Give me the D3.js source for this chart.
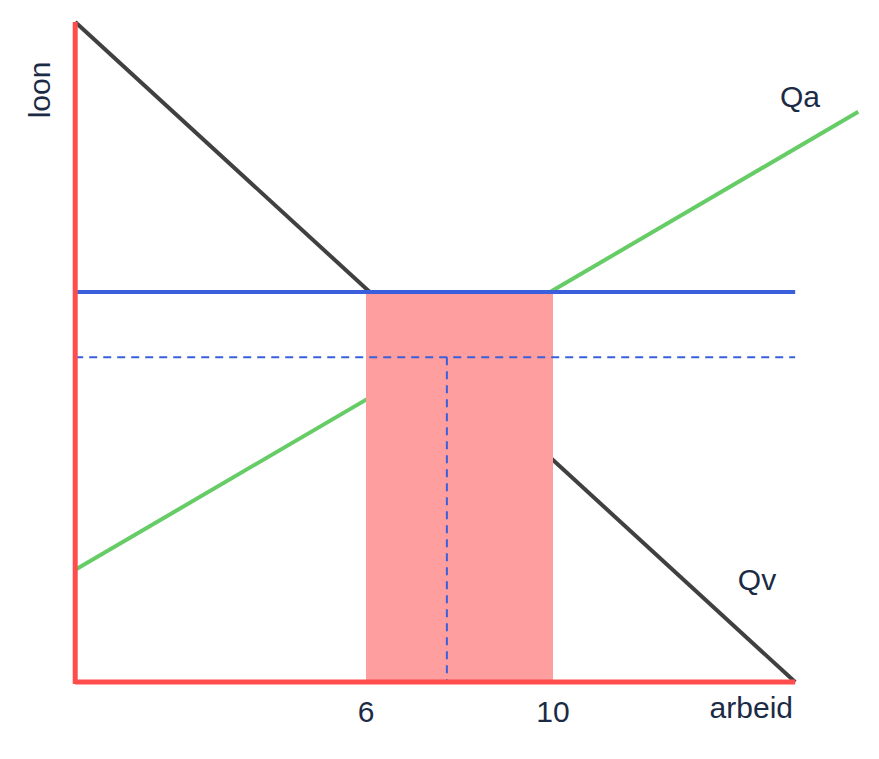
<!DOCTYPE html>
<html><head><meta charset="utf-8">
<script src="https://cdn.jsdelivr.net/npm/d3@7"></script>
<style>body{margin:0;background:#fff}text{font-family:"Liberation Sans",Arial,sans-serif;fill:#1c2b45}</style>
</head><body><svg id="c"></svg>
<script>
// data in chart units
const xTicks = [6, 10];
const demand = [[-0.22, 100], [15.18, 0]];       // Qv
const supply = [[-0.22, 17], [16.53, 86.4]];     // Qa
const minWage = 59.1;
const eqWage = 49.2;
const eqQty = 7.73;
const gap = [6, 10];

const width = 879, height = 759;
const svg = d3.select('#c').attr('width', width).attr('height', height);
const x = d3.scaleLinear().domain([6, 10]).range([366, 553]);
const y = d3.scaleLinear().domain([0, 100]).range([682, 22]);
const x0 = x(-0.22), xEnd = x(15.18);
const line = d3.line().x(d => x(d[0])).y(d => y(d[1]));

svg.append('path').attr('d', line(demand)).attr('stroke', '#404040').attr('stroke-width', 4).attr('fill', 'none');
svg.append('path').attr('d', line(supply)).attr('stroke', '#66cc66').attr('stroke-width', 4).attr('fill', 'none');

svg.append('rect').attr('x', x(gap[0])).attr('y', y(minWage))
  .attr('width', x(gap[1]) - x(gap[0])).attr('height', y(0) - y(minWage))
  .attr('fill', '#ff9e9e');

svg.append('line').attr('x1', x0).attr('x2', xEnd).attr('y1', y(eqWage)).attr('y2', y(eqWage))
  .attr('stroke', '#3a5fdc').attr('stroke-width', 2).attr('stroke-dasharray', '8,6');
svg.append('line').attr('x1', x(eqQty)).attr('x2', x(eqQty)).attr('y1', y(eqWage)).attr('y2', y(0))
  .attr('stroke', '#3a5fdc').attr('stroke-width', 2).attr('stroke-dasharray', '8,6');
svg.append('line').attr('x1', x0).attr('x2', xEnd).attr('y1', y(minWage)).attr('y2', y(minWage))
  .attr('stroke', '#3a5fdc').attr('stroke-width', 4);

// axes
svg.append('line').attr('x1', x0).attr('x2', x0).attr('y1', y(100)).attr('y2', y(0) + 2)
  .attr('stroke', '#ff4d4d').attr('stroke-width', 5);
svg.append('line').attr('x1', x0).attr('x2', xEnd).attr('y1', y(0)).attr('y2', y(0))
  .attr('stroke', '#ff4d4d').attr('stroke-width', 5);

svg.selectAll('.tick').data(xTicks).enter().append('text')
  .attr('x', d => x(d)).attr('y', 722).attr('text-anchor', 'middle')
  .attr('font-size', 30).text(d => d);

svg.append('text').attr('x', 793).attr('y', 718).attr('text-anchor', 'end').attr('font-size', 30).text('arbeid');
svg.append('text').attr('transform', 'translate(50,90) rotate(-90)').attr('text-anchor', 'middle').attr('font-size', 30).text('loon');
svg.append('text').attr('x', 800).attr('y', 107).attr('text-anchor', 'middle').attr('font-size', 30).text('Qa');
svg.append('text').attr('x', 757).attr('y', 590).attr('text-anchor', 'middle').attr('font-size', 30).text('Qv');
</script></body></html>
